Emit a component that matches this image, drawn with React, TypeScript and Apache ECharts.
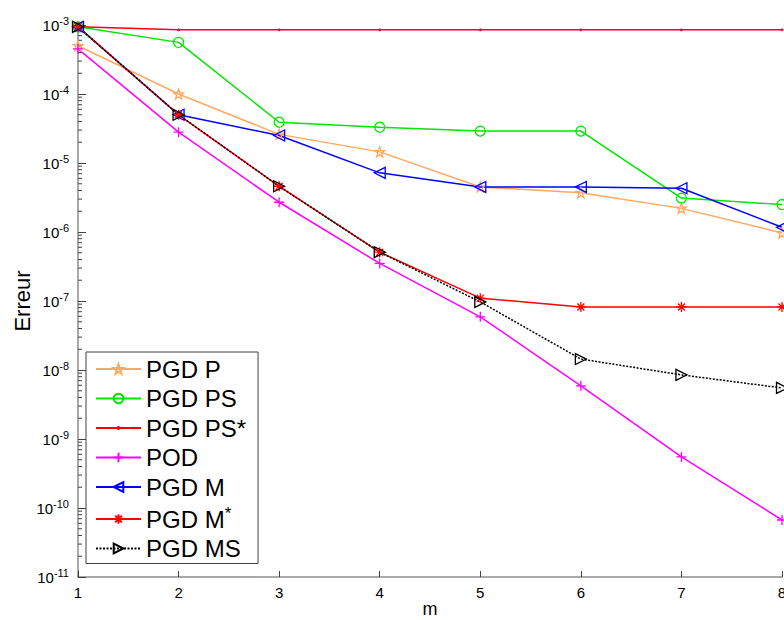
import React, { useEffect, useRef } from "react";
import * as echarts from "echarts";

const mValues = [1, 2, 3, 4, 5, 6, 7, 8];
const pgdP = [5.0e-4, 1.0e-4, 2.6e-5, 1.45e-5, 4.5e-6, 3.7e-6, 2.2e-6, 9.7e-7];
const pgdPS = [9.4e-4, 5.6e-4, 3.9e-5, 3.3e-5, 2.9e-5, 2.9e-5, 3.1e-6, 2.5e-6];
const pgdPSstar = [9.4e-4, 8.5e-4, 8.5e-4, 8.5e-4, 8.5e-4, 8.5e-4, 8.5e-4, 8.5e-4];
const pod = [4.5e-4, 2.8e-5, 2.7e-6, 3.5e-7, 5.9e-8, 5.9e-9, 5.5e-10, 6.7e-11];
const pgdM = [9.4e-4, 5.0e-5, 2.5e-5, 7.2e-6, 4.5e-6, 4.5e-6, 4.3e-6, 1.17e-6];
const pgdMstar = [9.4e-4, 5.0e-5, 4.6e-6, 5.1e-7, 1.1e-7, 8.2e-8, 8.2e-8, 8.2e-8];
const pgdMS = [9.4e-4, 5.0e-5, 4.6e-6, 5.1e-7, 9.7e-8, 1.44e-8, 8.5e-9, 5.5e-9];

const seriesNames = ["PGD P", "PGD PS", "PGD PS*", "POD", "PGD M", "PGD M*", "PGD MS"];
const decadeExponents = [-11, -10, -9, -8, -7, -6, -5, -4];
const minorMultipliers = [2, 3, 4, 5, 6, 7, 8, 9];

const FONT = "'Liberation Sans', Arial, Helvetica, sans-serif";

const STAR =
  "path://M0,-10 L2.35,-3.24 L9.51,-3.09 L3.8,1.23 L5.88,8.09 L0,4 L-5.88,8.09 L-3.8,1.23 L-9.51,-3.09 L-2.35,-3.24 Z";
const TRI_LEFT = "path://M0,5 L10,0 L10,10 Z";
const TRI_RIGHT = "path://M10,5 L0,0 L0,10 Z";
const PLUS = "path://M5,0 L5,10 M0,5 L10,5";
const ASTER = "path://M5,0 L5,10 M0,5 L10,5 M1.5,1.5 L8.5,8.5 M1.5,8.5 L8.5,1.5";
// tiny dot inside an invisible 10x10 box (so legend icon stays small)
const DOT = "path://M0,0 M10,10 M4,5 A1,1 0 1,0 6,5 A1,1 0 1,0 4,5 Z";

function pairs(vals: number[]) {
  return mValues.map((m, i) => [m, vals[i]]);
}

export default function App() {
  const ref = useRef<HTMLDivElement>(null);
  useEffect(() => {
    if (!ref.current) return;
    const chart = echarts.init(ref.current, null, { renderer: "svg" });

    const minorData: number[][] = [];
    decadeExponents.forEach((e) => {
      minorMultipliers.forEach((k) => {
        minorData.push([1, k * Math.pow(10, e)]);
      });
    });

    const mkLine = (
      name: string,
      vals: number[],
      color: string,
      symbol: string,
      symbolSize: number,
      hollow: boolean,
      lineType: any = "solid"
    ) => ({
      name,
      type: "line",
      data: pairs(vals),
      symbol,
      symbolSize,
      showAllSymbol: true,
      lineStyle: { color, width: 1.5, type: lineType },
      itemStyle: hollow
        ? { color: "rgba(0,0,0,0)", borderColor: color, borderWidth: 1.3 }
        : { color, borderColor: color, borderWidth: 1 },
      emphasis: { disabled: true },
      clip: false,
    });

    chart.setOption({
      animation: false,
      backgroundColor: "#fff",
      grid: { left: 78, right: 2, top: 25, bottom: 43, outerBoundsMode: "none", containLabel: false },
      xAxis: {
        type: "value",
        min: 1,
        max: 8,
        interval: 1,
        name: "m",
        nameLocation: "middle",
        nameGap: 23,
        nameMoveOverlap: false,
        nameTextStyle: { fontSize: 18, fontFamily: FONT, color: "#000" },
        axisLine: { show: true, lineStyle: { color: "#8c8c8c", width: 1.5 } },
        axisTick: { show: true, inside: true, length: 6, lineStyle: { color: "#404040" } },
        splitLine: { show: false },
        axisLabel: { margin: 8, fontSize: 15, fontFamily: FONT, color: "#000", hideOverlap: false },
      },
      yAxis: {
        type: "log",
        logBase: 10,
        min: 1e-11,
        max: 1e-3,
        interval: 1,
        splitNumber: 8,
        name: "Erreur",
        nameLocation: "middle",
        nameGap: 45,
        nameMoveOverlap: false,
        nameTextStyle: { fontSize: 22, fontFamily: FONT, color: "#000" },
        axisLine: { show: true, lineStyle: { color: "#8c8c8c", width: 1.5 } },
        axisTick: { show: true, inside: true, length: 8, lineStyle: { color: "#404040" } },
        splitLine: { show: false },
        axisLabel: {
          margin: 9,
          formatter: (v: number) => `{b|10}{s|${Math.round(Math.log10(v))}}`,
          rich: {
            b: { fontSize: 15, fontFamily: FONT, color: "#000" },
            s: { fontSize: 11, fontFamily: FONT, color: "#000", padding: [0, 0, 9, 0] },
          },
        },
      },
      legend: {
        orient: "vertical",
        left: 86,
        top: 352,
        padding: [5, 12, 3, 9],
        itemGap: 5.5,
        itemWidth: 45,
        itemHeight: 12,
        backgroundColor: "#fff",
        borderColor: "#404040",
        borderWidth: 1,
        borderRadius: 0,
        data: seriesNames,
        selectedMode: false,
        formatter: (name: string) => (name === "PGD M*" ? "{a|PGD M}{s|*}" : name),
        textStyle: {
          fontSize: 24,
          fontFamily: FONT,
          color: "#000",
          lineHeight: 24,
          rich: {
            a: { fontSize: 24, fontFamily: FONT, color: "#000", lineHeight: 24 },
            s: { fontSize: 17, fontFamily: FONT, color: "#000", padding: [0, 0, 12, 0] },
          },
        },
      },
      series: [
        mkLine("PGD P", pgdP, "#ffa860", STAR, 10, true),
        mkLine("PGD PS", pgdPS, "#00e600", "circle", 10, true),
        mkLine("PGD PS*", pgdPSstar, "#ff0000", DOT, 10, false),
        mkLine("POD", pod, "#ff00ff", PLUS, 10, true),
        mkLine("PGD M", pgdM, "#0000ff", TRI_LEFT, 11, true),
        mkLine("PGD M*", pgdMstar, "#ff0000", ASTER, 10, true),
        mkLine("PGD MS", pgdMS, "#000000", TRI_RIGHT, 11, true, [2, 1.5]),
        {
          name: "minorTicks",
          type: "custom",
          silent: true,
          data: minorData,
          renderItem: (params: any, api: any) => {
            const p = api.coord([api.value(0), api.value(1)]);
            return {
              type: "line",
              shape: { x1: p[0], y1: p[1], x2: p[0] + 4, y2: p[1] },
              style: { stroke: "#404040", lineWidth: 1 },
            };
          },
          z: 1,
        },
      ],
    });
    return () => chart.dispose();
  }, []);
  return (
    <div
      ref={ref}
      style={{ position: "fixed", left: 0, top: 0, width: 784, height: 620 }}
    />
  );
}
